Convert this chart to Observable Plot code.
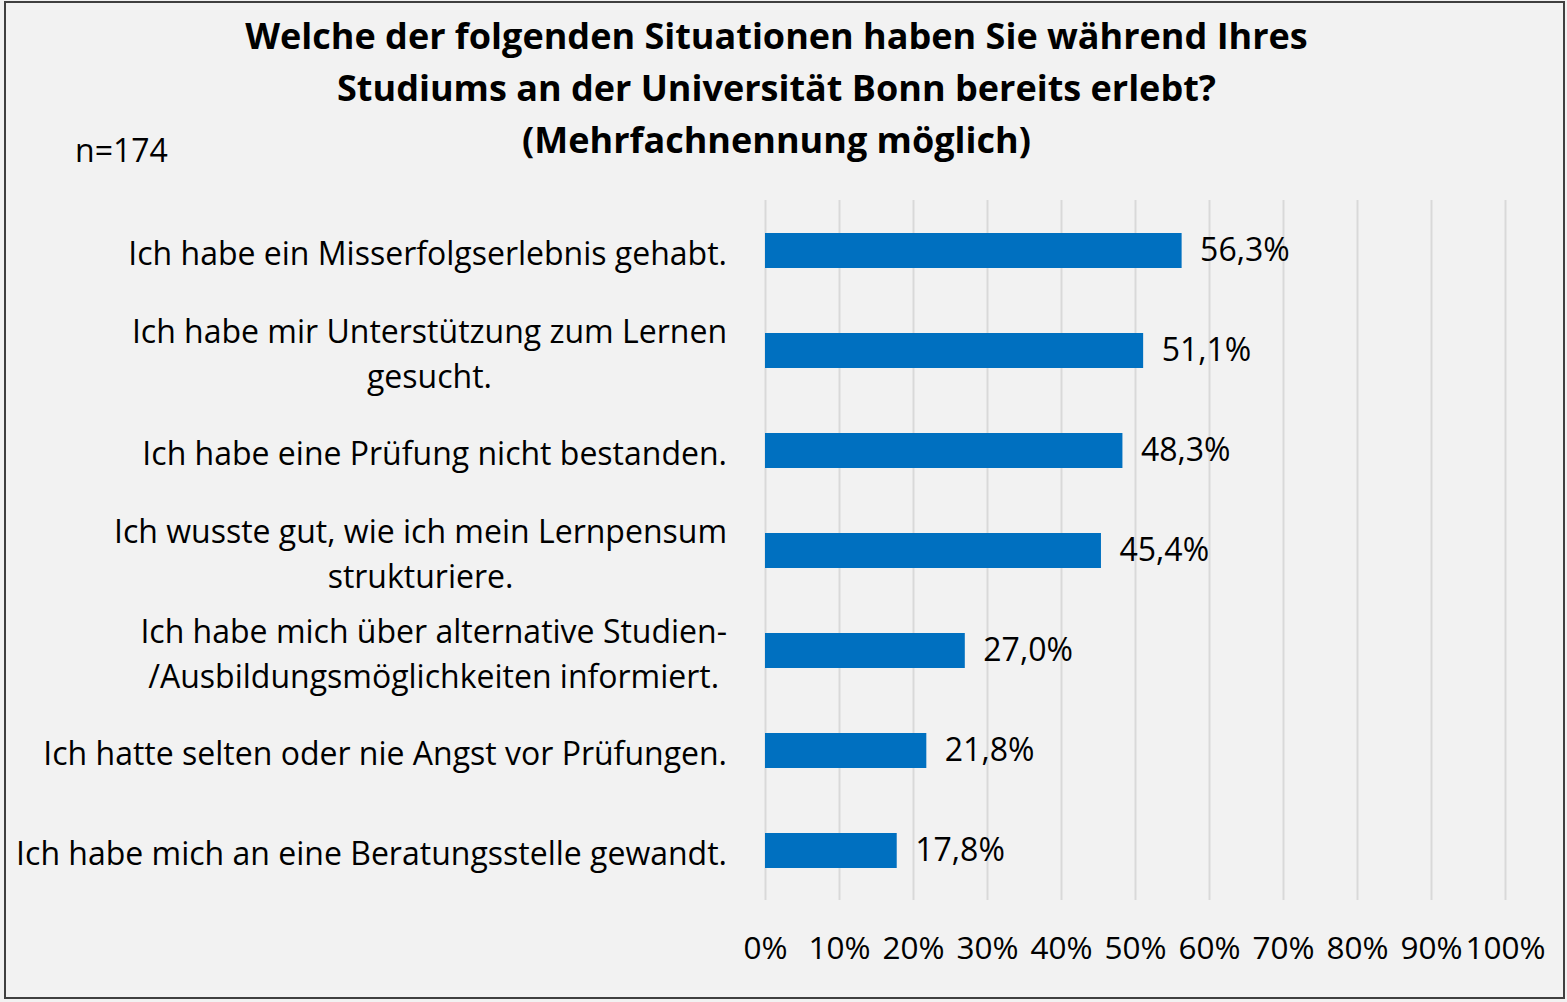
<!DOCTYPE html>
<html><head><meta charset="utf-8">
<script src="https://cdn.jsdelivr.net/npm/d3@7"></script>
<script src="https://cdn.jsdelivr.net/npm/@observablehq/plot@0.6"></script>
<style>
html,body{margin:0;padding:0;background:#f2f2f2;}
#wrap{position:relative;width:1567px;height:1002px;overflow:hidden;background:#f2f2f2;font-family:'Open Sans',sans-serif;color:#000;}
#frame{position:absolute;left:4px;top:1px;width:1561px;height:998px;border:2px solid #404040;box-sizing:border-box;}
#title{position:absolute;left:0;width:1553px;top:10px;text-align:center;font-weight:bold;font-size:36px;line-height:52px;}
#n{position:absolute;left:75px;top:132px;font-size:32px;line-height:36px;}
#chart{position:absolute;left:0;top:0;}
</style></head>
<body>
<div id="wrap">
  <div id="frame"></div>
  <div id="chart"></div>
  <div id="title">Welche der folgenden Situationen haben Sie während Ihres<br>Studiums an der Universität Bonn bereits erlebt?<br>(Mehrfachnennung möglich)</div>
  <div id="n">n=174</div>
</div>
<script>
const categories = [
  "Ich habe ein Misserfolgserlebnis gehabt.",
  "Ich habe mir Unterstützung zum Lernen\ngesucht.",
  "Ich habe eine Prüfung nicht bestanden.",
  "Ich wusste gut, wie ich mein Lernpensum\nstrukturiere.",
  "Ich habe mich über alternative Studien-\n/Ausbildungsmöglichkeiten informiert.",
  "Ich hatte selten oder nie Angst vor Prüfungen.",
  "Ich habe mich an eine Beratungsstelle gewandt."
];
const values = [56.3, 51.1, 48.3, 45.4, 27.0, 21.8, 17.8];
const xTicks = [0, 10, 20, 30, 40, 50, 60, 70, 80, 90, 100];

const data = categories.map((c, i) => ({label: c, value: values[i]}));
const fmt = v => v.toFixed(1).replace(".", ",") + "%";
const FONT = "'Open Sans',sans-serif";

const chart = Plot.plot({
  width: 1567,
  height: 1002,
  marginLeft: 765,
  marginRight: 62,
  marginTop: 200,
  marginBottom: 102,
  style: {background: "transparent", fontFamily: FONT, fontSize: "31.5px", color: "#000"},
  x: {domain: [0, 100], ticks: xTicks, tickFormat: d => d + "%", tickSize: 0, tickPadding: 36, label: null},
  y: {domain: categories, paddingInner: 0.65, paddingOuter: 0.325, axis: null},
  marks: [
    Plot.gridX(xTicks, {stroke: "#d9d9d9", strokeOpacity: 1, strokeWidth: 2}),
    Plot.barX(data, {x: "value", y: "label", fill: "#0070c0"}),
    Plot.text(data, {x: "value", y: "label", text: d => fmt(d.value), textAnchor: "start", dx: 18, fontSize: 32, fill: "#000"}),
    Plot.text(data, {y: "label", text: "label", frameAnchor: "left", textAnchor: "middle", lineHeight: 1.4, fontSize: 32, fill: "#000", className: "cat"})
  ]
});
document.getElementById("chart").appendChild(chart);

// right-align each category label block (lines centered within block)
const rightEdge = chart.scale("x").apply(0) - 38;
const svgRect = chart.getBoundingClientRect();
chart.querySelectorAll(".cat text").forEach(el => {
  const r = el.getBoundingClientRect();
  const shift = rightEdge - (r.right - svgRect.left);
  el.setAttribute("transform", (el.getAttribute("transform") || "") + ` translate(${shift},0)`);
});
</script>
</body></html>
